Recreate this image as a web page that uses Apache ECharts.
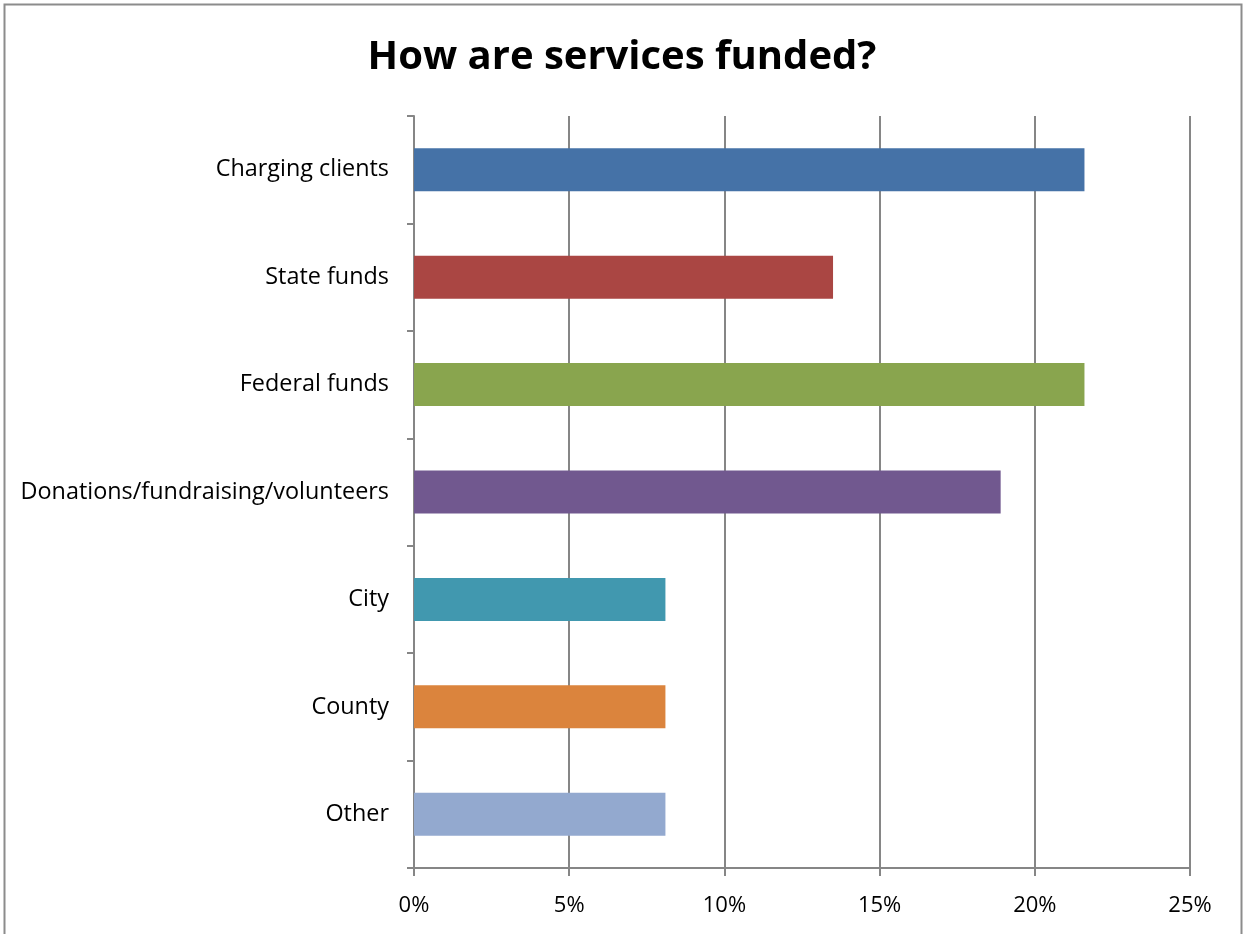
<!DOCTYPE html>
<html>
<head>
<meta charset="UTF-8">
<title>How are services funded?</title>
<script type="text/javascript" src="https://cdn.jsdelivr.net/npm/echarts@6/dist/echarts.min.js"></script>
</head>
<body style="margin:0">
<div id="main" style="width:1244px;height:934px"></div>
<script type="text/javascript">
var categories = ['Charging clients', 'State funds', 'Federal funds', 'Donations/fundraising/volunteers', 'City', 'County', 'Other'];
var values = [21.6, 13.5, 21.6, 18.9, 8.1, 8.1, 8.1];
var barColors = ['#4572A7', '#AA4643', '#89A54E', '#71588F', '#4198AF', '#DB843D', '#93A9CF'];
var xTicks = [0, 5, 10, 15, 20, 25];

var myChart = echarts.init(document.getElementById('main'));
var fontName = '"Open Sans", sans-serif';

var option = {
    backgroundColor: '#ffffff',
    animation: false,
    title: {
        text: 'How are services funded?',
        left: 'center',
        top: 33,
        textStyle: { color: '#000', fontSize: 40, fontWeight: 'bold', fontFamily: fontName }
    },
    graphic: [{
        type: 'rect',
        shape: { x: 4.5, y: 4.5, width: 1237, height: 940 },
        style: { fill: 'none', stroke: '#8c8c8c', lineWidth: 2 },
        silent: true
    }],
    grid: { left: 414, right: 54, top: 116, bottom: 66 },
    xAxis: {
        type: 'value',
        min: xTicks[0],
        max: xTicks[xTicks.length - 1],
        interval: 5,
        axisLine: { show: true, lineStyle: { color: '#868686', width: 2 } },
        axisTick: { show: true, length: 8, lineStyle: { color: '#868686', width: 2 } },
        splitLine: { show: true, lineStyle: { color: '#868686', width: 2 } },
        axisLabel: { color: '#000', fontSize: 22, fontFamily: fontName, margin: 27, formatter: '{value}%' }
    },
    yAxis: {
        type: 'category',
        data: categories,
        inverse: true,
        axisLine: { show: true, lineStyle: { color: '#868686', width: 2 } },
        axisTick: { show: true, length: 7, lineStyle: { color: '#868686', width: 2 } },
        axisLabel: { color: '#000', fontSize: 23.4, fontFamily: fontName, margin: 25 }
    },
    series: [{
        type: 'bar',
        barWidth: 43,
        data: values.map(function (v, i) {
            return { value: v, itemStyle: { color: barColors[i] } };
        })
    }]
};
myChart.setOption(option);
</script>
</body>
</html>
